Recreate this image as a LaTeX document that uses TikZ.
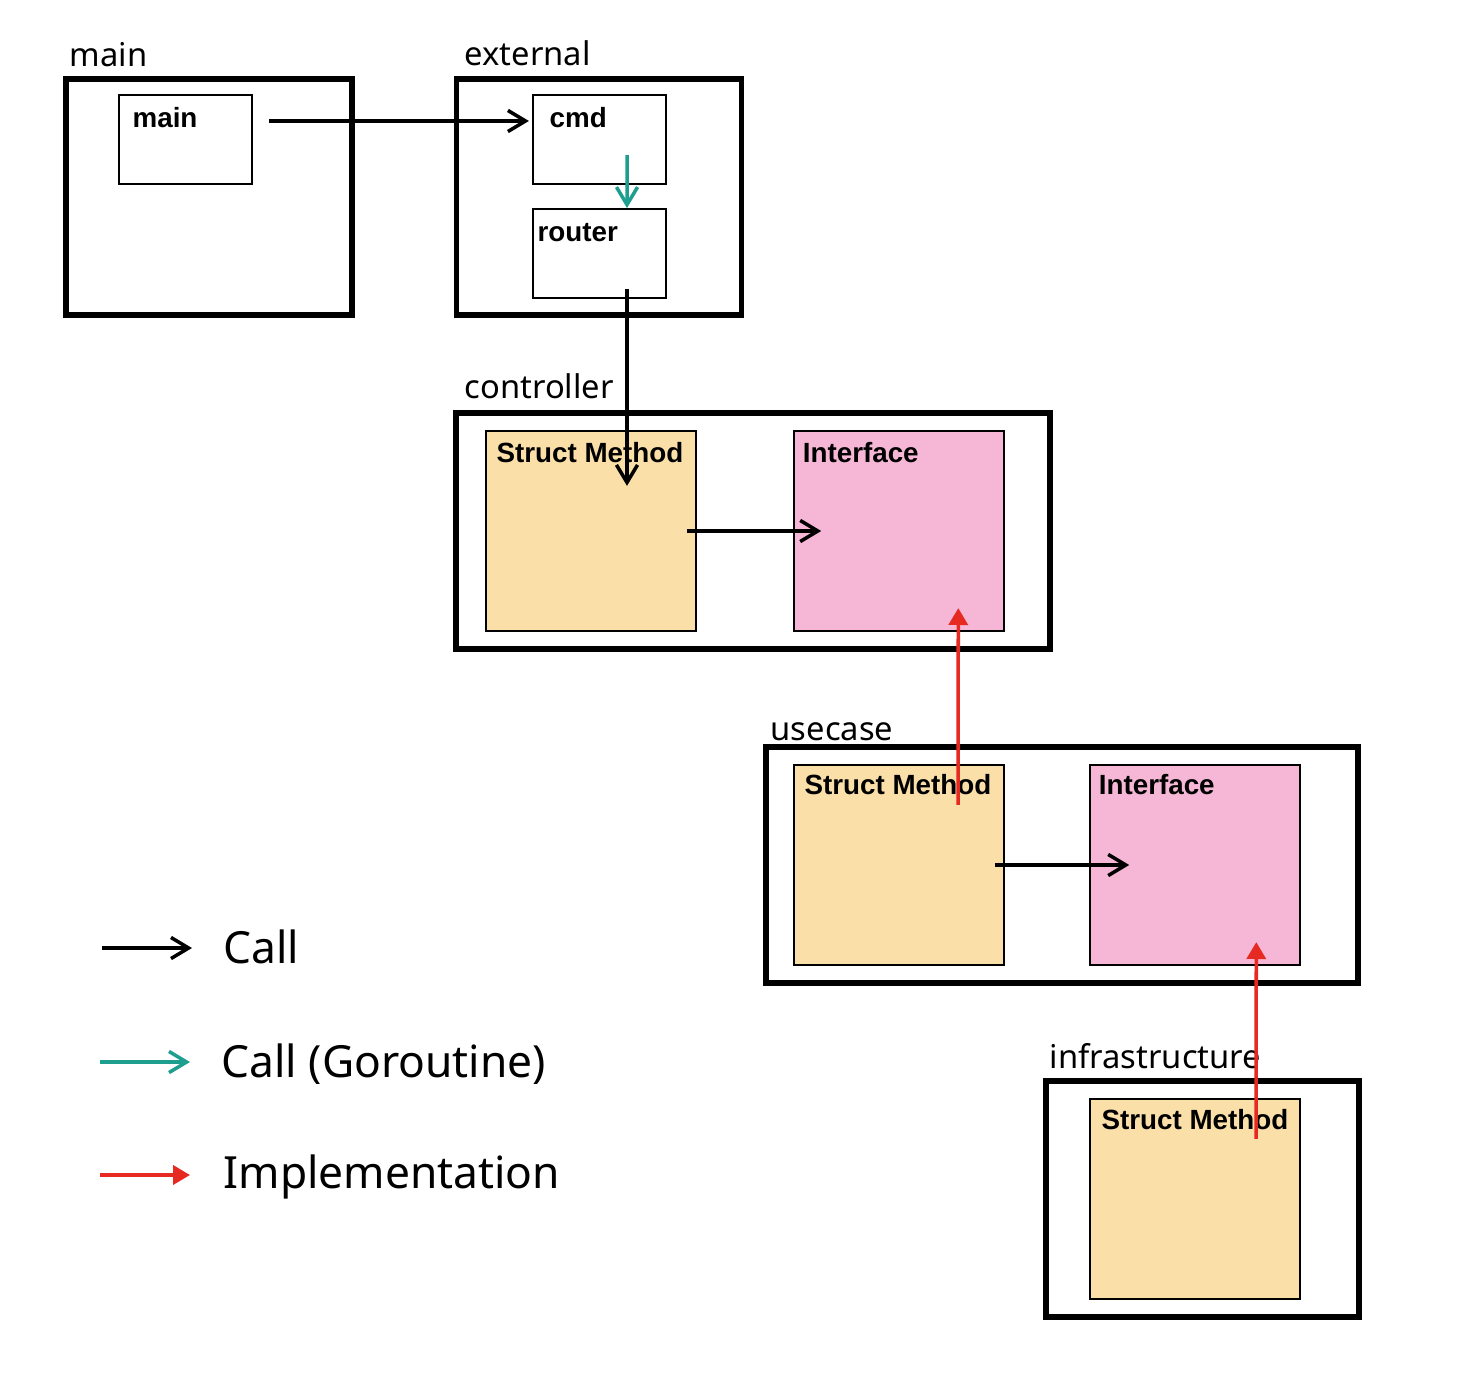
\documentclass[tikz,border=0pt]{standalone}
\usepackage{fontspec}
\setmainfont{Noto Sans}
\newfontfamily\fnfont{Liberation Sans}
\usepackage{tikz}
\usetikzlibrary{arrows.meta, positioning}
\definecolor{go_teal}{HTML}{1E9E8E}
\definecolor{impl_red}{HTML}{E62A22}
\definecolor{struct_yellow}{HTML}{FAE0A8}
\definecolor{iface_pink}{HTML}{F5B7D5}
\tikzset{
  layer/.style={draw=black,line width=1.6pt,minimum height=2.36cm,inner sep=0pt},
  layerlbl/.style={anchor=base west,inner sep=0pt,font=\fontsize{9.3}{10}\selectfont},
  fn/.style={draw=black,line width=0.6pt,minimum width=1.33cm,minimum height=0.89cm,inner sep=0pt},
  structm/.style={fn,fill=struct_yellow,minimum width=2.10cm,minimum height=2.00cm},
  iface/.style={structm,fill=iface_pink},
  fnlbl/.style={anchor=base west,inner sep=0pt,font=\fnfont\bfseries\fontsize{7.9}{9}\selectfont},
  call/.style={line width=1pt,-{Straight Barb[length=5pt,width=6pt]}},
  gocall/.style={call,go_teal},
  impl/.style={line width=1pt,impl_red,-{Triangle[length=4.8pt,width=5.4pt]}},
  legendtxt/.style={anchor=base west,inner sep=0pt,font=\fontsize{12.6}{14}\selectfont},
}

\begin{document}
\begin{tikzpicture}[x=0.01cm,y=-0.01cm]
	\useasboundingbox (0,0) rectangle (1482,1394);
	% layers
	\node[layer,minimum width=2.86cm] (mainbox) at (209,197) {};
	\node[layer,minimum width=2.85cm] (extbox) at (599,197) {};
	\node[layer,minimum width=5.94cm] (ctrlbox) at (753,531) {};
	\node[layer,minimum width=5.92cm] (ucbox) at (1062,865) {};
	\node[layer,minimum width=3.13cm] (infrabox) at (1202.5,1199) {};
	\node[layerlbl] (mainlbl) at (69,67) {main};
	\node[layerlbl] (extlbl) at (464,66) {external};
	\node[layerlbl] (ctrllbl) at (464,398) {controller};
	\node[layerlbl] (uclbl) at (770,740) {usecase};
	\node[layerlbl] (infralbl) at (1049,1068) {infrastructure};
	% functions
	\node[fn] (mainfn) at (185.5,139.5) {};
	\node[fn] (cmd) at (599.5,139.5) {};
	\node[fn,below=0.23cm of cmd] (router) {};
	\node[structm] (ctrlsm) at (591,531) {};
	\node[iface,right=0.96cm of ctrlsm] (ctrlif) {};
	\node[structm] (ucsm) at (899,865) {};
	\node[iface,right=0.84cm of ucsm] (ucif) {};
	\node[structm] (infrasm) at (1195,1199) {};
	\node[fnlbl] at ([shift={(14,34)}]mainfn.north west) {main};
	\node[fnlbl] at ([shift={(17,34)}]cmd.north west) {cmd};
	\node[fnlbl] at ([shift={(5,33)}]router.north west) {router};
	\node[fnlbl] at ([shift={(11,33)}]ctrlsm.north west) {Struct Method};
	\node[fnlbl] at ([shift={(9,33)}]ctrlif.north west) {Interface};
	\node[fnlbl] at ([shift={(11,31)}]ucsm.north west) {Struct Method};
	\node[fnlbl] at ([shift={(9,31)}]ucif.north west) {Interface};
	\node[fnlbl] at ([shift={(12,32)}]infrasm.north west) {Struct Method};
	% calls
	\draw[call] ([shift={(16,-18.5)}]mainfn.east) -- ([shift={(-3,-18.5)}]cmd.west);
	\draw[gocall] ([shift={(27.5,-30)}]cmd.south) -- ([xshift=0.275cm]router.north);
	\draw[call] ([shift={(27.5,-10)}]router.south) -- ([shift={(36,56)}]ctrlsm.north);
	\draw[call] ([xshift=-0.1cm]ctrlsm.east) -- ([xshift=0.28cm]ctrlif.west);
	\draw[call] ([xshift=-0.1cm]ucsm.east) -- ([xshift=0.4cm]ucif.west);
	\draw[impl] ([shift={(59,41)}]ucsm.north) -- ([shift={(59,-24)}]ctrlif.south);
	\draw[impl] ([shift={(61,41)}]infrasm.north) -- ([shift={(61,-24)}]ucif.south);
	% legend
	\coordinate (callA) at (102,948);
	\coordinate (callB) at (192,948);
	\coordinate (goA) at (100,1062);
	\coordinate (goB) at (190,1062);
	\coordinate (implA) at (100,1175);
	\coordinate (implB) at (190,1175);
	\draw[call] (callA) -- (callB);
	\draw[gocall] (goA) -- (goB);
	\draw[impl] (implA) -- (implB);
	\node[legendtxt] (calltxt) at (223,963) {Call};
	\node[legendtxt] (gotxt) at (221,1077) {Call (Goroutine)};
	\node[legendtxt] (impltxt) at (223,1188) {Implementation};
\end{tikzpicture}
\end{document}
